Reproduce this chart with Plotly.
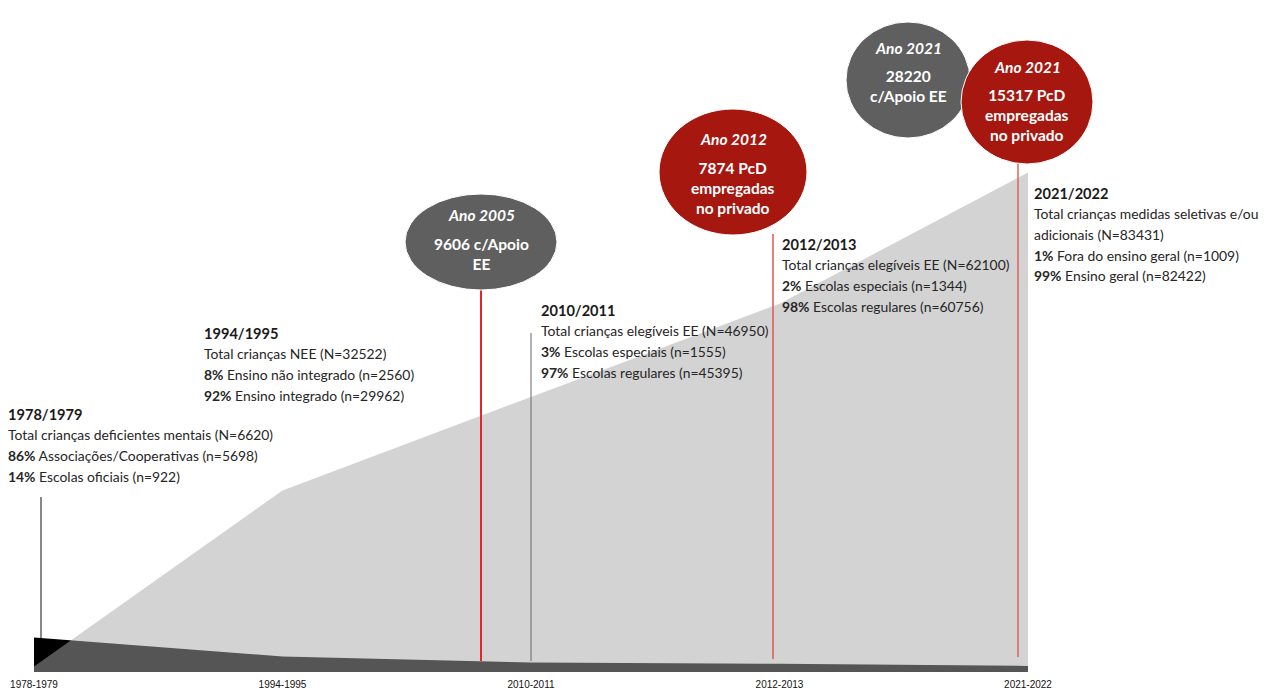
import plotly.graph_objects as go

# ---------------- data ----------------
categories = ["1978-1979", "1994-1995", "2010-2011", "2012-2013", "2021-2022"]
periods = ["1978/1979", "1994/1995", "2010/2011", "2012/2013", "2021/2022"]
special = [5698, 2560, 1555, 1344, 1009]        # associações / não integrado / escolas especiais / fora ensino geral
regular = [922, 29962, 45395, 60756, 82422]     # escolas oficiais / integrado / escolas regulares / ensino geral
total_labels = [
    "Total crianças deficientes mentais",
    "Total crianças NEE",
    "Total crianças elegíveis EE",
    "Total crianças elegíveis EE",
    "Total crianças medidas seletivas e/ou|adicionais",
]
special_labels = ["Associações/Cooperativas", "Ensino não integrado", "Escolas especiais",
                  "Escolas especiais", "Fora do ensino geral"]
regular_labels = ["Escolas oficiais", "Ensino integrado", "Escolas regulares",
                  "Escolas regulares", "Ensino geral"]

bubble_years = ["Ano 2005", "Ano 2012", "Ano 2021", "Ano 2021"]
bubble_texts = ["9606 c/Apoio<br>EE", "7874 PcD<br>empregadas<br>no privado",
                "28220<br>c/Apoio EE", "15317 PcD<br>empregadas<br>no privado"]
bubble_kind = ["apoio", "emprego", "apoio", "emprego"]

# ---------------- geometry helpers (pixel -> data) ----------------
W, H = 1285, 693
BASE_PX = 672           # baseline pixel row
X0_PX, X4_PX = 34, 1028
UNIT = (X4_PX - X0_PX) / (len(categories) - 1)
YSCALE = 165.0          # children per pixel


def dx(px):
    return (px - X0_PX) / UNIT


def dy(py):
    return (BASE_PX - py) * YSCALE


fig = go.Figure()
# black area (special) under a translucent grey area (regular): overlap reads dark grey
fig.add_trace(go.Scatter(x=categories, y=special, mode="lines", line=dict(width=0),
                         fill="tozeroy", fillcolor="#000000", hoverinfo="skip"))
fig.add_trace(go.Scatter(x=categories, y=regular, mode="lines", line=dict(width=0),
                         fill="tozeroy", fillcolor="rgba(168,168,168,0.505)", hoverinfo="skip"))

shapes = []
# vertical pointer lines
vlines = [
    (41, 497, 638, "#111111", 1),
    (531, 333, 661, "#666666", 1),
    (481, 289, 661, "#e3262b", 2),
    (773, 234, 659, "#e25555", 1.5),
    (1018, 164, 657, "#e06060", 1.5),
]
for px, ytop, ybot, col, w in vlines:
    shapes.append(dict(type="line", xref="x", yref="y", x0=dx(px), x1=dx(px),
                       y0=dy(ybot), y1=dy(ytop), line=dict(color=col, width=w)))

# bubbles: center px, size px
bubble_geom = [(481, 242, 152, 96), (733, 172, 148, 126), (908, 80, 124, 116), (1027, 102, 132, 124)]
colors = {"apoio": "#5f5f5f", "emprego": "#a5170f"}
for (cx, cy, bw, bh), kind in zip(bubble_geom, bubble_kind):
    shapes.append(dict(type="circle", xref="x", yref="y", xsizemode="pixel", ysizemode="pixel",
                       xanchor=dx(cx), yanchor=dy(cy), x0=-bw / 2, x1=bw / 2, y0=-bh / 2, y1=bh / 2,
                       fillcolor=colors[kind], line=dict(color="white", width=1)))

annotations = []
TXT = dict(family="Lato, Open Sans, sans-serif", size=13.9, color="#262626")
TTL = dict(family="Lato, Open Sans, sans-serif", size=14.6, color="#1a1a1a")
# info blocks: left px, title centre px
block_pos = [(6, 414), (202, 333), (539, 310), (780, 244), (1032, 193)]
LINE = 20.7
for i, (lx, ty) in enumerate(block_pos):
    tot = special[i] + regular[i]
    ps = round(100 * special[i] / tot)
    pr = round(100 * regular[i] / tot)
    tl = total_labels[i].split("|")
    tl[-1] = f"{tl[-1]} (N={tot})"
    lines = tl + [f"<b>{ps}%</b> {special_labels[i]} (n={special[i]})",
                  f"<b>{pr}%</b> {regular_labels[i]} (n={regular[i]})"]
    annotations.append(dict(x=dx(lx), y=dy(ty), xref="x", yref="y", text=f"<b>{periods[i]}</b>",
                            showarrow=False, xanchor="left", yanchor="middle", font=TTL))
    for k, ln in enumerate(lines):
        annotations.append(dict(x=dx(lx), y=dy(ty + LINE * (k + 1)), xref="x", yref="y", text=ln,
                                showarrow=False, xanchor="left", yanchor="middle", font=TXT))

# bubble texts
bubble_title_y = [215, 139, 48, 67]
bubble_body_y = [254, 188, 86, 115]
BF = dict(family="Lato, Open Sans, sans-serif", size=15.5, color="white")
for (cx, cy, bw, bh), yr, body, ty, by in zip(bubble_geom, bubble_years, bubble_texts,
                                              bubble_title_y, bubble_body_y):
    annotations.append(dict(x=dx(cx), y=dy(ty), xref="x", yref="y", text=f"<b><i>{yr}</i></b>",
                            showarrow=False, xanchor="center", yanchor="middle", font=BF))
    annotations.append(dict(x=dx(cx), y=dy(by), xref="x", yref="y", text=f"<b>{body}</b>",
                            showarrow=False, xanchor="center", yanchor="middle", align="center", font=BF))

fig.update_layout(
    width=W, height=H,
    margin=dict(l=0, r=0, t=0, b=H - BASE_PX),
    paper_bgcolor="white", plot_bgcolor="white",
    showlegend=False, hovermode=False,
    shapes=shapes, annotations=annotations,
    xaxis=dict(type="category", range=[dx(0), dx(W)], showgrid=False, zeroline=False,
               showline=False, ticks="", ticklabelstandoff=5,
               tickfont=dict(family="Liberation Sans, Arial", size=10, color="#111"),
               fixedrange=True),
    yaxis=dict(range=[0, dy(0)], visible=False, fixedrange=True),
)

fig.write_html("out.html", config={"displayModeBar": False},
               post_script="document.body.style.margin='0';document.body.style.overflow='hidden';")
